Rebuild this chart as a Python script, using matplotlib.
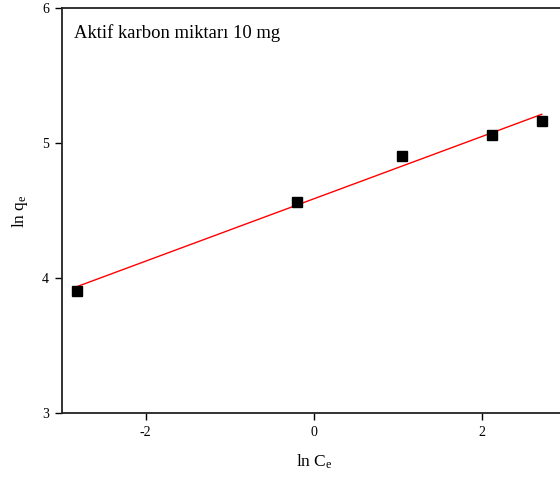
import numpy as np
import matplotlib
matplotlib.use("Agg")
import matplotlib.pyplot as plt

plt.rcParams['font.family'] = ['Liberation Serif', 'DejaVu Serif']
plt.rcParams['mathtext.fontset'] = 'custom'
plt.rcParams['mathtext.rm'] = 'Liberation Serif'
plt.rcParams['mathtext.it'] = 'Liberation Serif:italic'
plt.rcParams['axes.unicode_minus'] = False

# data
ln_ce = [-2.82, -0.20, 1.05, 2.12, 2.71]
ln_qe = [3.906, 4.563, 4.908, 5.064, 5.165]
x_ticks = [-2, 0, 2]
y_ticks = [3, 4, 5, 6]
label_text = "Aktif karbon miktarı 10 mg"

fig = plt.figure(figsize=(5.6, 4.88), dpi=100)
ax = fig.add_axes([0.110, 0.153, 0.901, 0.830])

# linear fit
slope, icpt = np.polyfit(ln_ce, ln_qe, 1)
xf = np.array([min(ln_ce), max(ln_ce)])
ax.plot(xf, slope * xf + icpt, color='red', lw=1.0, zorder=2)

ax.plot(ln_ce, ln_qe, 's', color='black', markersize=6.5, zorder=3)

ax.set_xlim(-3, 3)
ax.set_ylim(3, 6)
ax.set_xticks(x_ticks)
ax.set_yticks(y_ticks)
ax.tick_params(direction='out', length=5, width=1.0, labelsize=10, pad=4)

for side in ['left', 'bottom', 'top']:
    ax.spines[side].set_linewidth(1.3)
    ax.spines[side].set_color('#222222')
ax.spines['right'].set_visible(False)

ax.set_xlabel(r'ln C$_{\mathrm{e}}$', fontsize=12.5, labelpad=10)
ax.set_ylabel(r'ln q$_{\mathrm{e}}$', fontsize=12.5, labelpad=9)

ax.text(0.024, 0.927, label_text, transform=ax.transAxes, fontsize=13.4,
        va='baseline', ha='left')

fig.savefig('out.png', dpi=100)
